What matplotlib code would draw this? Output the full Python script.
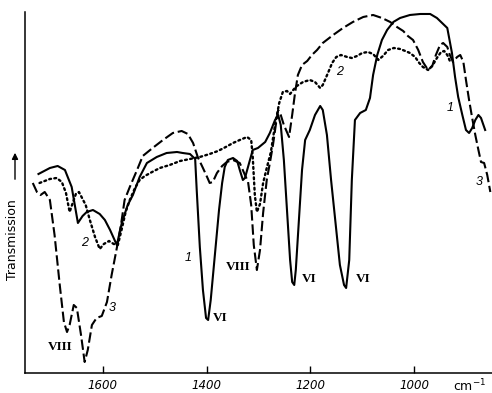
import matplotlib
matplotlib.use("Agg")
import matplotlib.pyplot as plt

# wavenumber (cm-1) and transmission (arbitrary units)
wn1 = [1724, 1702, 1687, 1673, 1660, 1648, 1639, 1631, 1619, 1606, 1596, 1586, 1573,
       1563, 1552, 1542, 1529, 1515, 1496, 1477, 1457, 1446, 1432, 1422, 1419, 1413,
       1407, 1401, 1397, 1392, 1384, 1376, 1370, 1365, 1359, 1349, 1341, 1336, 1330,
       1326, 1318, 1311, 1301, 1287, 1278, 1268, 1262, 1257, 1251, 1245, 1239, 1235,
       1231, 1228, 1222, 1216, 1210, 1201, 1191, 1181, 1176, 1168, 1160, 1150, 1143,
       1135, 1131, 1125, 1120, 1114, 1104, 1093, 1085, 1079, 1071, 1062, 1052, 1040,
       1027, 1008, 988, 969, 956, 946, 936, 927, 921, 915, 907, 900, 894, 888, 882,
       876, 871, 863]
tr1 = [199, 205, 207, 203, 186, 150, 157, 161, 163, 159, 153, 143, 128,
       151, 168, 178, 196, 210, 216, 220, 221, 220, 219, 214, 183, 126,
       83, 55, 53, 73, 118, 163, 190, 206, 213, 215, 212, 203, 193,
       195, 210, 223, 225, 231, 240, 253, 258, 248, 213, 163, 113, 91,
       88, 103, 153, 203, 233, 243, 258, 267, 263, 238, 193, 143, 108,
       88, 85, 113, 193, 253, 260, 263, 275, 298, 318, 333, 343, 351,
       355, 358, 359, 359, 355, 350, 345, 320, 296, 276, 258, 243, 240, 245, 253,
       258, 255, 243]

wn2 = [1722, 1712, 1702, 1689, 1679, 1671, 1664, 1658, 1652, 1646, 1641, 1633, 1625,
       1615, 1606, 1598, 1588, 1579, 1571, 1563, 1556, 1548, 1538, 1529, 1519, 1505,
       1490, 1471, 1451, 1432, 1413, 1394, 1378, 1363, 1349, 1336, 1322, 1314, 1311,
       1307, 1303, 1297, 1291, 1284, 1276, 1268, 1260, 1253, 1245, 1239, 1233, 1226,
       1214, 1201, 1191, 1181, 1176, 1166, 1158, 1150, 1141, 1129, 1120, 1110, 1100,
       1089, 1079, 1069, 1060, 1050, 1039, 1027, 1017, 1008, 998, 990, 983, 973, 965,
       956, 948, 942, 936, 931]
tr2 = [190, 192, 194, 195, 191, 180, 161, 170, 179, 181, 176, 168, 153,
       136, 124, 129, 132, 129, 128, 145, 161, 173, 185, 193, 197, 201,
       205, 208, 212, 214, 216, 219, 222, 226, 230, 233, 236, 233, 216,
       178, 161, 169, 190, 205, 221, 248, 270, 281, 282, 279, 283, 287,
       291, 293, 291, 285, 288, 300, 310, 316, 318, 316, 315, 317, 320,
       321, 319, 313, 317, 323, 325, 324, 322, 320, 316, 310, 306, 303, 307,
       315, 321, 322, 318, 312]

wn3 = [1735, 1727, 1720, 1712, 1702, 1693, 1683, 1675, 1669, 1664, 1656, 1650, 1642,
       1635, 1629, 1621, 1612, 1602, 1592, 1583, 1573, 1565, 1558, 1548, 1534, 1523,
       1504, 1484, 1465, 1448, 1436, 1426, 1417, 1407, 1399, 1394, 1388, 1380, 1370,
       1361, 1349, 1336, 1326, 1320, 1314, 1309, 1303, 1297, 1291, 1284, 1278, 1272,
       1266, 1262, 1257, 1251, 1241, 1235, 1230, 1224, 1216, 1206, 1197, 1187, 1176,
       1156, 1137, 1118, 1098, 1079, 1062, 1046, 1033, 1021, 1012, 1002, 992, 983,
       973, 965, 958, 950, 944, 936, 931, 925, 917, 911, 905, 900, 894, 888, 882,
       876, 871, 865, 859, 853]
tr3 = [190, 181, 178, 181, 173, 138, 88, 51, 41, 48, 68, 65, 38,
       11, 23, 48, 55, 57, 71, 98, 125, 148, 173, 186, 203, 217,
       225, 233, 240, 242, 239, 230, 216, 205, 196, 190, 191, 200, 207,
       211, 213, 210, 198, 191, 168, 128, 103, 123, 160, 193, 210, 228,
       250, 263, 258, 248, 236, 258, 278, 298, 308, 312, 318, 323, 330,
       338, 345, 351, 356, 358, 355, 351, 346, 342, 337, 333, 323, 311,
       303, 307, 318, 328, 330, 326, 318, 311, 316, 318, 311, 293, 273, 255, 238,
       223, 211, 210, 198, 181]

# curve numbers and band assignments
notes = [("1", 1436, 115), ("2", 1635, 130), ("3", 1581, 65),
         ("2", 1143, 301), ("1", 930, 265), ("3", 874, 191)]
bands = [("VIII", 1683, 26), ("VI", 1374, 55), ("VIII", 1340, 106),
         ("VI", 1203, 94), ("VI", 1098, 94)]
ticks = [1600, 1400, 1200, 1000]

fig = plt.figure(figsize=(4.92, 3.93), dpi=100)
ax = fig.add_axes([0.0508, 0.0509, 0.949, 0.9186])

ax.plot(wn1, tr1, color="black", lw=1.5, solid_joinstyle="round")
ax.plot(wn2, tr2, color="black", lw=1.7, linestyle=(0, (0.8, 1.4)),
        dash_capstyle="round")
ax.plot(wn3, tr3, color="black", lw=1.5, linestyle=(0, (5, 1.8)))

ax.set_xlim(1750, 850)
ax.set_ylim(0, 361)
ax.set_xticks(ticks)
ax.set_xticklabels([str(t) for t in ticks], fontstyle="italic", fontsize=8.5)
ax.set_yticks([])
ax.tick_params(axis="x", direction="in", length=5, width=1, pad=4)
for s in ["top", "right"]:
    ax.spines[s].set_visible(False)
for s in ["left", "bottom"]:
    ax.spines[s].set_linewidth(1.1)

for txt, x, y in notes:
    ax.text(x, y, txt, fontsize=9, fontstyle="italic", ha="center", va="center",
            family="Liberation Sans")
for txt, x, y in bands:
    ax.text(x, y, txt, fontsize=9.5, fontweight="bold", ha="center", va="center",
            family="Liberation Serif")

ax.text(0.953, -0.036, "cm$^{-1}$", transform=ax.transAxes, fontsize=9,
        ha="center", va="center")

fig.text(13 / 492, 1 - 240 / 393, "Transmission", rotation=90, fontsize=9,
         ha="center", va="center")
ax.annotate("", xy=(15 / 492, 1 - 150 / 393), xytext=(15 / 492, 1 - 182 / 393),
            xycoords="figure fraction",
            arrowprops=dict(arrowstyle="-|>", color="black", lw=1, mutation_scale=9))

fig.savefig("out.png", dpi=100)
